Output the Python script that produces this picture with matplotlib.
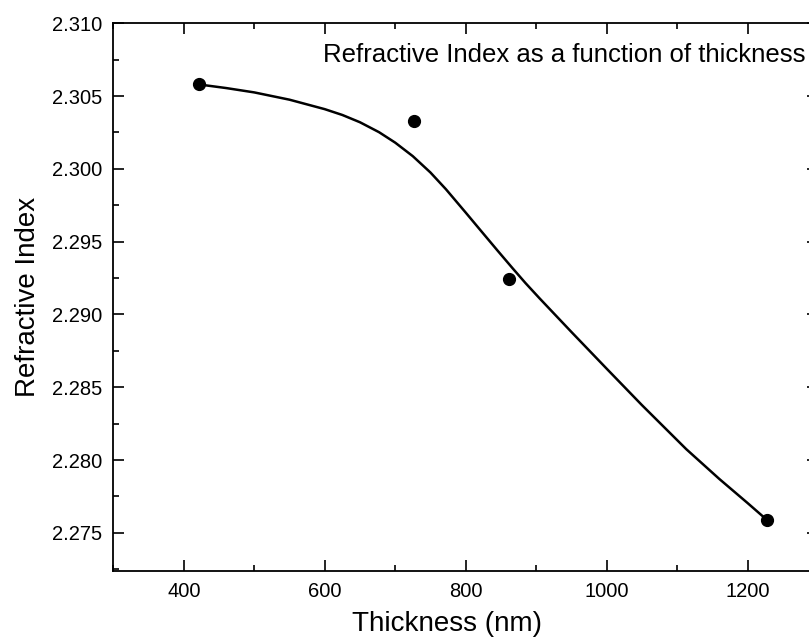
import matplotlib
matplotlib.use("Agg")
import matplotlib.pyplot as plt
from matplotlib.ticker import MultipleLocator

plt.rcParams['font.family'] = ['Liberation Sans', 'DejaVu Sans']

# measured points
thickness = [421, 727, 862, 1227]
refr_index = [2.3058, 2.3033, 2.2924, 2.2759]

# fitted curve
curve_x = [421, 460, 500, 550, 600, 625, 650, 677, 700, 725, 750, 772, 800,
           819, 845, 867, 885, 905, 950, 1000, 1050, 1113, 1160, 1200, 1227]
curve_y = [2.3058, 2.30555, 2.30525, 2.30475, 2.3041, 2.30370, 2.30320,
           2.30252, 2.30180, 2.30087, 2.29975, 2.29860, 2.29700, 2.29590,
           2.29440, 2.29315, 2.29215, 2.29110, 2.28880, 2.28628, 2.28378,
           2.28075, 2.27870, 2.27705, 2.27591]

title_text = "Refractive Index as a function of thickness"

fig = plt.figure(figsize=(8.09, 6.37), dpi=100)
ax = fig.add_axes([0.1401, 0.1041, 0.871, 0.8594])

ax.plot(curve_x, curve_y, color='black', lw=1.8, solid_joinstyle='round')
ax.plot(thickness, refr_index, 'o', color='black', ms=8.5)

ax.set_xlim(300, 1300)
ax.set_ylim(2.2724, 2.310)
ax.xaxis.set_major_locator(MultipleLocator(200))
ax.xaxis.set_minor_locator(MultipleLocator(100))
ax.yaxis.set_major_locator(MultipleLocator(0.005))
ax.yaxis.set_minor_locator(MultipleLocator(0.0025))
ax.yaxis.set_major_formatter(plt.FormatStrFormatter('%.3f'))

ax.tick_params(which='both', direction='in', top=True, right=True, width=1.2,
               labelsize=14.5, pad=8, colors='black')
ax.tick_params(which='major', length=8)
ax.tick_params(which='minor', length=4.5)
for s in ax.spines.values():
    s.set_linewidth(1.3)

ax.set_xlabel("Thickness (nm)", fontsize=20)
ax.xaxis.set_label_coords(0.4735, -0.073)
ax.set_ylabel("Refractive Index", fontsize=20, labelpad=8)

ax.text(0.9816, 0.942, title_text, transform=ax.transAxes, ha='right',
        va='center', fontsize=18.5)

fig.savefig("out.png", dpi=100)
